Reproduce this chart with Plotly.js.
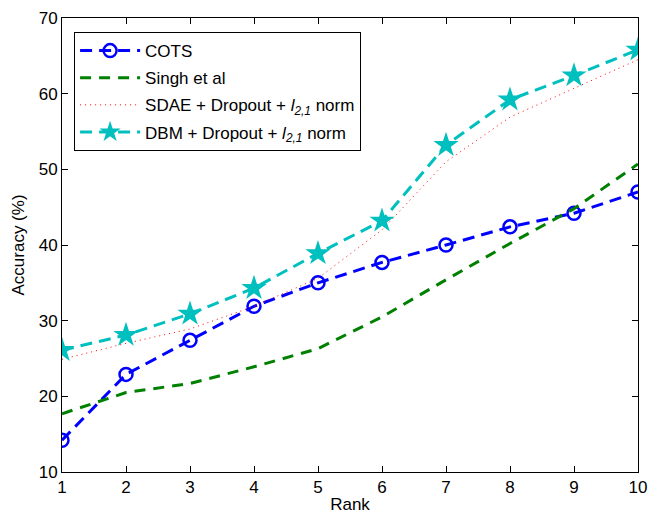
<!DOCTYPE html>
<html>
<head>
<meta charset="utf-8">
<script src="https://cdn.plot.ly/plotly-3.0.1.min.js"></script>
<style>body{margin:0;padding:0;background:#fff;}#chart{width:650px;height:515px;}</style>
</head>
<body>
<div id="chart"></div>
<script>
const ranks = [1, 2, 3, 4, 5, 6, 7, 8, 9, 10];
const cots = [14.2, 22.9, 27.4, 31.9, 35.0, 37.7, 40.0, 42.4, 44.2, 47.0];
const singh = [17.7, 20.5, 21.7, 23.9, 26.3, 30.5, 35.4, 40.2, 44.8, 50.7];
const sdae = [24.9, 27.0, 28.9, 31.9, 35.6, 42.0, 51.0, 56.9, 60.7, 64.5];
const dbm = [26.1, 28.1, 30.9, 34.3, 38.9, 43.2, 53.2, 59.2, 62.4, 65.8];
const names = ['COTS', 'Singh et al',
  'SDAE + Dropout + <i>l</i><sub><i>2,1</i></sub> norm',
  'DBM + Dropout + <i>l</i><sub><i>2,1</i></sub> norm'];
const yTicks = [10, 20, 30, 40, 50, 60, 70];

const traces = [
  {x: ranks, y: cots, name: names[0], legendgroup: 'a', mode: 'lines+markers',
   line: {color: '#0000ff', width: 3, dash: '12px,7px'},
   marker: {symbol: 'circle-open', size: 13, color: '#0000ff', line: {width: 2.5, color: '#0000ff'}}},
  {x: ranks, y: singh, name: names[1], legendgroup: 'b', mode: 'lines',
   line: {color: '#008000', width: 3, dash: '11px,8px'}},
  {x: ranks, y: sdae, name: names[2], legendgroup: 'c', mode: 'lines',
   line: {color: '#ff0000', width: 1, dash: '1px,4px'}},
  {x: ranks, y: dbm, name: names[3], legendgroup: 'd', mode: 'lines+markers',
   line: {color: '#00bfbf', width: 3, dash: '12px,7px'},
   marker: {symbol: 'star', size: 19, color: '#00bfbf', line: {width: 0}}}
];

const axisCommon = {
  showgrid: false, zeroline: false, showline: true, mirror: 'ticks',
  linecolor: '#000', linewidth: 1, ticks: 'inside', ticklen: 6, tickcolor: '#000',
  tickfont: {family: 'Liberation Sans, Arial, sans-serif', size: 17, color: '#000'}
};

const layout = {
  width: 650, height: 515,
  margin: {l: 62, r: 12, t: 18, b: 43},
  paper_bgcolor: '#fff', plot_bgcolor: '#fff',
  font: {family: 'Liberation Sans, Arial, sans-serif', size: 17, color: '#000'},
  xaxis: Object.assign({}, axisCommon, {
    range: [1, 10], tickvals: ranks, ticktext: ranks.map(String),
    title: {text: 'Rank', standoff: 1, font: {size: 17}}
  }),
  yaxis: Object.assign({}, axisCommon, {
    range: [10, 70], tickvals: yTicks, ticktext: yTicks.map(String),
    title: {text: 'Accuracy (%)', standoff: 9, font: {size: 17}}
  }),
  legend: {
    x: 0.021, y: 0.969, xanchor: 'left', yanchor: 'top',
    bgcolor: '#fff', bordercolor: '#000', borderwidth: 1, traceorder: 'grouped',
    font: {size: 17, color: '#000'}, itemwidth: 60, tracegroupgap: 2
  },
  showlegend: true
};

Plotly.newPlot('chart', traces, layout, {displayModeBar: false, staticPlot: true});
</script>
</body>
</html>
